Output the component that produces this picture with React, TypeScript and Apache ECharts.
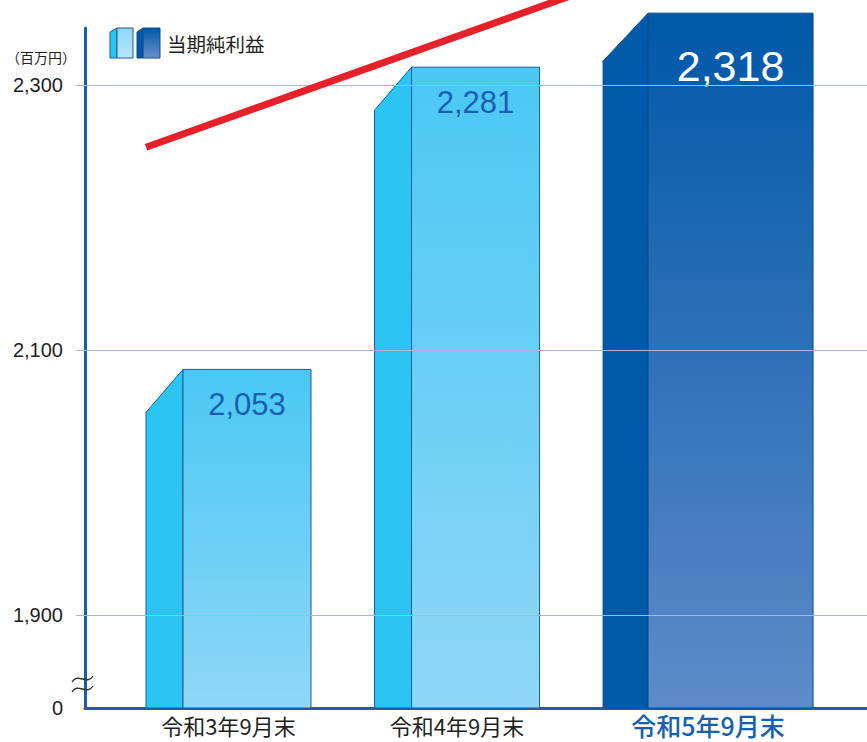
import React, { useEffect, useRef } from "react";
import * as echarts from "echarts";

const categories = ["令和3年9月末", "令和4年9月末", "令和5年9月末"];
const netIncome = [2053, 2281, 2318];
const yTicks = [1900, 2100, 2300];
const axisBase = 1830;
const axisTop = 2343;
const trendLine = [
  [0, 2253],
  [2.0, 2376],
];

const NUM_FONT = "'Liberation Sans', Arial, sans-serif";
const JP_FONT = "'Noto Sans CJK JP', 'Noto Sans', sans-serif";

const tilde = (y: number) => ({
  type: "bezierCurve",
  z: 10,
  shape: { x1: 72, y1: y + 3, cpx1: 78, cpy1: y - 7, cpx2: 87, cpy2: y + 7, x2: 93, y2: y - 3 },
  style: { stroke: "#333333", lineWidth: 1.4, fill: "none" },
});

export default function App() {
  const ref = useRef<HTMLDivElement>(null);

  useEffect(() => {
    document.body.style.margin = "0";
    const chart = echarts.init(ref.current!, null, { renderer: "svg" });

    const renderItem = (params: any, api: any) => {
      const i = api.value(0);
      const v = api.value(1);
      const big = i === 2;
      const top = api.coord([i, v]);
      const base = api.coord([i, axisBase]);
      const x = top[0];
      const yTop = top[1];
      const yBase = base[1];
      const side = big ? 45 : 37;
      const front = big ? 165 : 128;
      const rise = big ? 48 : 43;
      const sideColor = big ? "#0059a9" : "#2cc4f2";
      const border = big ? "#0a4c93" : "#1a5c9c";
      const grad = big
        ? new echarts.graphic.LinearGradient(0, 0, 0, 1, [
            { offset: 0, color: "#0058a8" },
            { offset: 1, color: "#5e8bc9" },
          ])
        : new echarts.graphic.LinearGradient(0, 0, 0, 1, [
            { offset: 0, color: "#4ac8f4" },
            { offset: 1, color: "#8fd7f7" },
          ]);
      const frontTop = yTop - rise;
      return {
        type: "group",
        children: [
          {
            type: "polygon",
            shape: {
              points: [
                [x, yBase],
                [x, yTop],
                [x + side, frontTop],
                [x + side, yBase],
              ],
            },
            style: { fill: sideColor, stroke: border, lineWidth: 1 },
          },
          {
            type: "rect",
            shape: { x: x + side, y: frontTop, width: front, height: yBase - frontTop },
            style: { fill: grad, stroke: border, lineWidth: 1 },
          },
          {
            type: "text",
            x: x + side + front / 2,
            y: frontTop + (big ? 53 : 35),
            style: {
              text: v.toLocaleString("en-US"),
              fill: big ? "#ffffff" : "#1a5fae",
              font: `${big ? 43 : 31}px ${NUM_FONT}`,
              align: "center",
              verticalAlign: "middle",
            },
          },
          {
            type: "text",
            x: x + (side + front) / 2,
            y: yBase + 17,
            style: {
              text: categories[i],
              fill: big ? "#1560b0" : "#231f20",
              font: `${big ? "500 " : ""}${big ? 25 : 22}px ${JP_FONT}`,
              align: "center",
              verticalAlign: "middle",
            },
          },
        ],
      };
    };

    chart.setOption({
      animation: false,
      grid: { left: 85, right: 0, top: 28, bottom: 34 },
      xAxis: {
        type: "value",
        min: -0.267,
        max: 3.155,
        axisLine: { show: true, onZero: false, lineStyle: { color: "#1560b0", width: 3 } },
        axisTick: { show: false },
        axisLabel: { show: false },
        splitLine: { show: false },
      },
      yAxis: {
        type: "value",
        min: axisBase,
        max: axisTop,
        axisLine: { show: true, onZero: false, lineStyle: { color: "#1560b0", width: 3 } },
        axisTick: {
          show: true,
          customValues: yTicks,
          length: 9,
          lineStyle: { color: "#a9b6dc", width: 1 },
        },
        axisLabel: {
          customValues: [axisBase, ...yTicks],
          margin: 22,
          color: "#231f20",
          fontSize: 20,
          fontFamily: NUM_FONT,
          formatter: (val: number) => (val === axisBase ? "0" : val.toLocaleString("en-US")),
        },
        splitLine: { show: false },
      },
      graphic: [
        {
          type: "polygon",
          shape: { points: [[110, 58], [110, 32], [117, 28], [117, 58]] },
          style: { fill: "#2cc4f2", stroke: "#1a5c9c", lineWidth: 1 },
        },
        {
          type: "rect",
          shape: { x: 117, y: 28, width: 16, height: 30 },
          style: {
            fill: new echarts.graphic.LinearGradient(0, 0, 0, 1, [
              { offset: 0, color: "#8fd6f6" },
              { offset: 1, color: "#b8e6fa" },
            ]),
            stroke: "#1a5c9c",
            lineWidth: 1,
          },
        },
        {
          type: "polygon",
          shape: { points: [[137, 58], [137, 32], [143, 28], [143, 58]] },
          style: { fill: "#0059a9", stroke: "#0a4c93", lineWidth: 1 },
        },
        {
          type: "rect",
          shape: { x: 143, y: 28, width: 17, height: 30 },
          style: {
            fill: new echarts.graphic.LinearGradient(0, 0, 0, 1, [
              { offset: 0, color: "#0058a8" },
              { offset: 1, color: "#6a8fcc" },
            ]),
            stroke: "#0a4c93",
            lineWidth: 1,
          },
        },
        {
          type: "text",
          x: 167,
          y: 43,
          style: {
            text: "当期純利益",
            fill: "#231f20",
            font: `19.5px ${JP_FONT}`,
            verticalAlign: "middle",
          },
        },
        {
          type: "text",
          x: 6,
          y: 57,
          style: {
            text: "（百万円）",
            fill: "#231f20",
            font: `14px ${JP_FONT}`,
            verticalAlign: "middle",
          },
        },
        tilde(679),
        tilde(689),
      ],
      series: [
        {
          type: "line",
          z: 1,
          data: [],
          markLine: {
            silent: true,
            symbol: "none",
            label: { show: false },
            lineStyle: { color: "#a9b6dc", width: 1, type: "solid" },
            data: yTicks.map((v) => ({ yAxis: v })),
          },
        },
        {
          type: "custom",
          z: 3,
          clip: false,
          renderItem,
          data: netIncome.map((v, i) => [i, v]),
        },
        {
          type: "line",
          z: 5,
          clip: false,
          symbol: "none",
          lineStyle: { color: "#e8202a", width: 7, cap: "butt" },
          data: trendLine,
        },
      ],
    });

    return () => chart.dispose();
  }, []);

  return <div ref={ref} style={{ width: 867, height: 742 }} />;
}
